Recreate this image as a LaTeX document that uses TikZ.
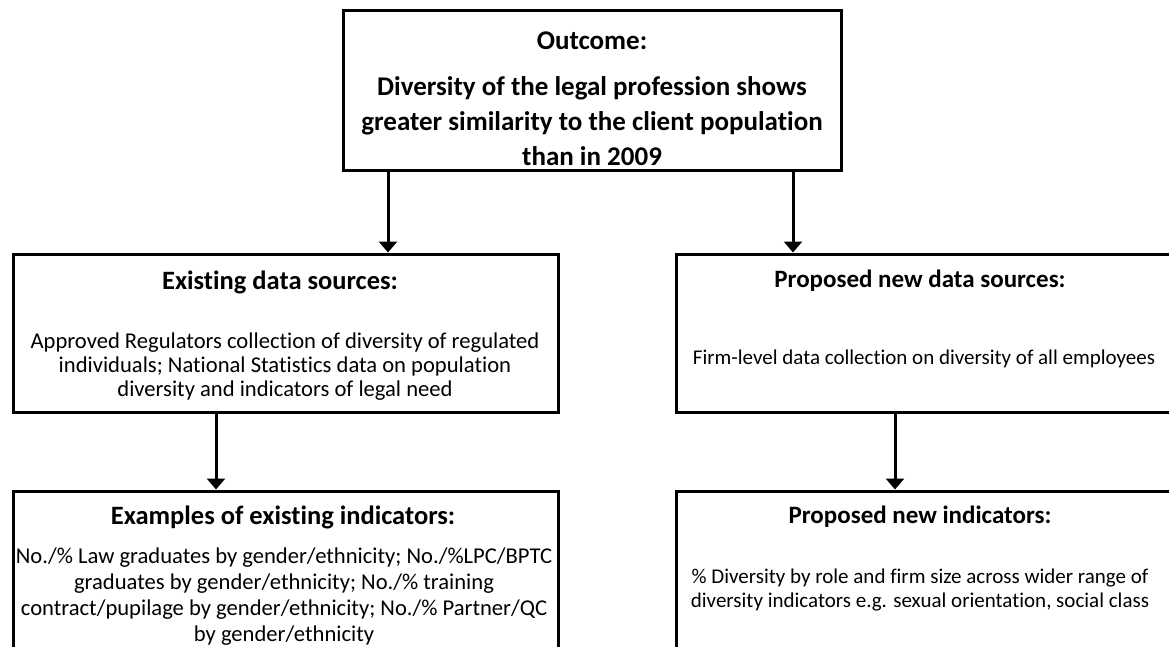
\documentclass[tikz,border=0pt]{standalone}
\usepackage{fontspec}
\setmainfont{Carlito}[RawFeature={-liga}]
\usetikzlibrary{arrows.meta}

\begin{document}
\begin{tikzpicture}[x=1pt,y=-1pt,
  frame/.style={draw=black, line width=3pt, fill=white, inner sep=0pt, outer sep=0pt},
  outhead/.style={anchor=base, font=\fontsize{27}{31}\selectfont\bfseries, inner sep=0pt},
  outtxt/.style={anchor=base, font=\fontsize{27}{31}\selectfont\bfseries, inner sep=0pt},
  lhead/.style={anchor=base, font=\fontsize{26.5}{30}\selectfont\bfseries, inner sep=0pt},
  lbody/.style={anchor=base, font=\fontsize{22.6}{26}\selectfont, inner sep=0pt},
  rhead/.style={anchor=base, font=\fontsize{25}{29}\selectfont\bfseries, inner sep=0pt},
  rbody/.style={anchor=base, font=\fontsize{21}{25}\selectfont, inner sep=0pt},
  flow/.style={line width=3pt, -{Triangle[width=18pt,length=11pt]}}
]
\useasboundingbox (0,0) rectangle (1169,647);

% boxes
\draw[frame] (343,11) rectangle (841,171);
\draw[frame] (13,254) rectangle (558,412);
\draw[frame] (676,254) rectangle (1175,412);
\draw[frame] (13,491) rectangle (558,660);
\draw[frame] (676,491) rectangle (1175,660);

% named anchor points on the box edges
\coordinate (outL) at (388,172.5);
\coordinate (outR) at (793,172.5);
\coordinate (exTop) at (388,252.5);
\coordinate (prTop) at (793,252.5);
\coordinate (exBot) at (216,413.5);
\coordinate (prBot) at (895,413.5);
\coordinate (exiTop) at (216,489.5);
\coordinate (priTop) at (895,489.5);

% outcome box
\node[outhead] (oh) at (592,50) {Outcome:};
\node[outtxt] (o1) at (592,96) {Diversity of the legal profession shows};
\node[outtxt] (o2) at (592,131) {greater similarity to the client population};
\node[outtxt] (o3) at (592,166) {than in 2009};

% existing data sources
\node[lhead] (eh) at (280,289) {Existing data sources:};
\node[lbody] (e1) at (285,348) {Approved Regulators collection of diversity of regulated};
\node[lbody] (e2) at (285,372) {individuals; National Statistics data on population};
\node[lbody] (e3) at (285,396) {diversity and indicators of legal need};

% proposed new data sources
\node[rhead] (ph) at (920,287) {Proposed new data sources:};
\node[rbody] (p1) at (924,364) {Firm-level data collection on diversity of all employees};

% examples of existing indicators
\node[lhead] (xh) at (283,524) {Examples of existing indicators:};
\node[lbody] (x1) at (284,563) {No./\% Law graduates by gender/ethnicity; No./\%LPC/BPTC};
\node[lbody] (x2) at (284,589) {graduates by gender/ethnicity; No./\% training};
\node[lbody] (x3) at (284,615) {contract/pupilage by gender/ethnicity; No./\% Partner/QC};
\node[lbody] (x4) at (284,641) {by gender/ethnicity};

% proposed new indicators
\node[rhead] (nh) at (920,523) {Proposed new indicators:};
\node[rbody] (n1) at (920,583) {\% Diversity by role and firm size across wider range of};
\node[rbody] (n2) at (920,607) {diversity indicators e.g. sexual orientation, social class};

% connectors
\draw[flow] (outL) -- (exTop);
\draw[flow] (outR) -- (prTop);
\draw[flow] (exBot) -- (exiTop);
\draw[flow] (prBot) -- (priTop);
\end{tikzpicture}
\end{document}
